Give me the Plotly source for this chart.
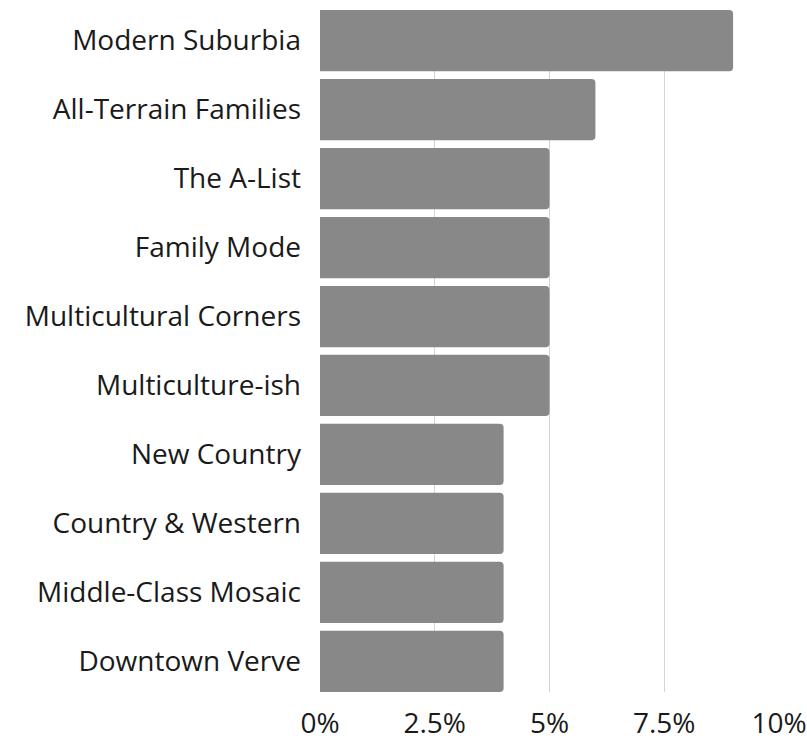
import plotly.graph_objects as go

# Segment shares (percent), listed top to bottom
segments = [
    "Modern Suburbia",
    "All-Terrain Families",
    "The A-List",
    "Family Mode",
    "Multicultural Corners",
    "Multiculture-ish",
    "New Country",
    "Country & Western",
    "Middle-Class Mosaic",
    "Downtown Verve",
]
shares = [9, 6, 5, 5, 5, 5, 4, 4, 4, 4]

tick_values = [0, 2.5, 5, 7.5, 10]
tick_labels = ["0%", "2.5%", "5%", "7.5%", "10%"]

GAP = 0.112  # fraction of each category band left empty between bars

fig = go.Figure(
    go.Bar(
        x=shares,
        y=list(range(len(segments))),
        orientation="h",
        marker=dict(color="#888888", line=dict(width=0)),
        hoverinfo="skip",
    )
)

fig.update_layout(
    width=807,
    height=741,
    margin=dict(l=320, r=28, t=10, b=49, autoexpand=False),
    paper_bgcolor="white",
    plot_bgcolor="white",
    bargap=GAP,
    barcornerradius=4,
    showlegend=False,
    font=dict(family="Open Sans", size=28, color="#1a1a1a"),
)

fig.update_xaxes(
    range=[0, 10],
    tickvals=tick_values,
    ticktext=tick_labels,
    showgrid=True,
    gridcolor="#d4d4d4",
    gridwidth=1,
    zeroline=False,
    showline=False,
    ticks="",
    ticklabelstandoff=12,
    automargin=False,
    tickfont=dict(size=28),
    fixedrange=True,
)

# Trim the category axis so the outer bars touch the plot edges
fig.update_yaxes(
    range=[len(segments) - 0.5 - GAP / 2, -0.5 + GAP / 2],
    tickvals=list(range(len(segments))),
    ticktext=segments,
    showgrid=False,
    zeroline=False,
    showline=False,
    ticks="",
    ticklabelstandoff=18,
    automargin=False,
    tickfont=dict(size=28),
    fixedrange=True,
)

fig.write_html("out.html")
